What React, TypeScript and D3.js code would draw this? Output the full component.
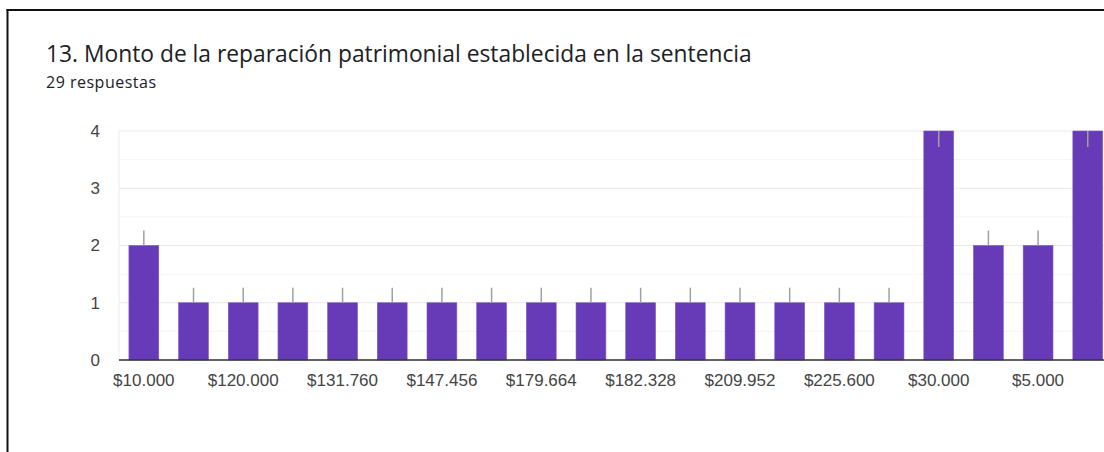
import React from "react";
import * as d3 from "d3";

const categories = [
  "$10.000", "$100.000", "$120.000", "$130.000", "$131.760", "$140.000",
  "$147.456", "$150.000", "$179.664", "$180.000", "$182.328", "$200.000",
  "$209.952", "$220.000", "$225.600", "$25.000", "$30.000", "$40.000",
  "$5.000", "$50.000",
];
const counts = [2, 1, 1, 1, 1, 1, 1, 1, 1, 1, 1, 1, 1, 1, 1, 1, 4, 2, 2, 4];
const yTicks = [0, 1, 2, 3, 4];
const yMinorTicks = [0.5, 1.5, 2.5, 3.5];

const W = 1104;
const H = 452;

export default function App() {
  const left = 119;
  const step = 49.68;
  const x = d3
    .scaleBand<string>()
    .domain(categories)
    .range([left, left + step * categories.length])
    .paddingInner(0.4)
    .paddingOuter(0.2);
  const y = d3.scaleLinear().domain([0, 4]).range([360, 131]);
  const maxV = d3.max(counts) as number;
  const font = "'Liberation Sans', Arial, sans-serif";

  return (
    <div style={{ position: "absolute", left: 0, top: 0, width: W, height: H, overflow: "hidden", background: "#fff" }}>
      <svg width={W} height={H} style={{ display: "block" }}>
        <rect x={0} y={0} width={W} height={H} fill="#fff" />
        {/* frame */}
        <line x1={7.5} x2={7.5} y1={9} y2={H} stroke="#111" strokeWidth={2} />
        <line x1={6.5} x2={W} y1={10} y2={10} stroke="#111" strokeWidth={2} />

        <text x={46} y={62} fontFamily="'Open Sans', sans-serif" fontSize={22.8} fill="#202124">
          13. Monto de la reparación patrimonial establecida en la sentencia
        </text>
        <text x={46} y={88} fontFamily="'Open Sans', sans-serif" fontSize={16} letterSpacing={0.5} fill="#202124">
          29 respuestas
        </text>

        {/* minor gridlines */}
        {yMinorTicks.map((t) => (
          <line key={"m" + t} x1={left} x2={W} y1={y(t)} y2={y(t)} stroke="#f4f4f4" strokeWidth={1} />
        ))}
        {/* major gridlines */}
        {yTicks.map((t) => (
          <line key={"g" + t} x1={left} x2={W} y1={y(t)} y2={y(t)} stroke="#e9e9e9" strokeWidth={1.2} />
        ))}
        <line x1={left} x2={left} y1={y(4)} y2={y(0)} stroke="#ececec" strokeWidth={1} />

        {/* y tick labels */}
        {yTicks.map((t) => (
          <text key={"yl" + t} x={100} y={y(t)} dy="0.35em" textAnchor="end" fontFamily={font} fontSize={17} fill="#444">
            {t}
          </text>
        ))}

        {/* bars */}
        {categories.map((c, i) => {
          const v = counts[i];
          const bx = x(c) as number;
          const bw = x.bandwidth();
          const cx = bx + bw / 2;
          const top = y(v);
          return (
            <g key={c}>
              <rect x={bx} y={top} width={bw} height={y(0) - top} fill="#673ab7" stroke="#7c55c4" strokeWidth={0.6} />
              {v === maxV ? (
                <line x1={cx} x2={cx} y1={top} y2={top + 16} stroke="#a0a0a0" strokeWidth={1.5} />
              ) : (
                <line x1={cx} x2={cx} y1={top} y2={top - 15} stroke="#a0a0a0" strokeWidth={1.5} />
              )}
            </g>
          );
        })}

        {/* baseline */}
        <line x1={left} x2={W} y1={y(0)} y2={y(0)} stroke="#333" strokeWidth={1.5} />

        {/* x labels (every other category) */}
        {categories.map((c, i) =>
          i % 2 === 0 ? (
            <text key={"xl" + c} x={(x(c) as number) + x.bandwidth() / 2} y={386} textAnchor="middle" fontFamily={font} fontSize={17} fill="#444">
              {c}
            </text>
          ) : null
        )}
      </svg>
    </div>
  );
}
